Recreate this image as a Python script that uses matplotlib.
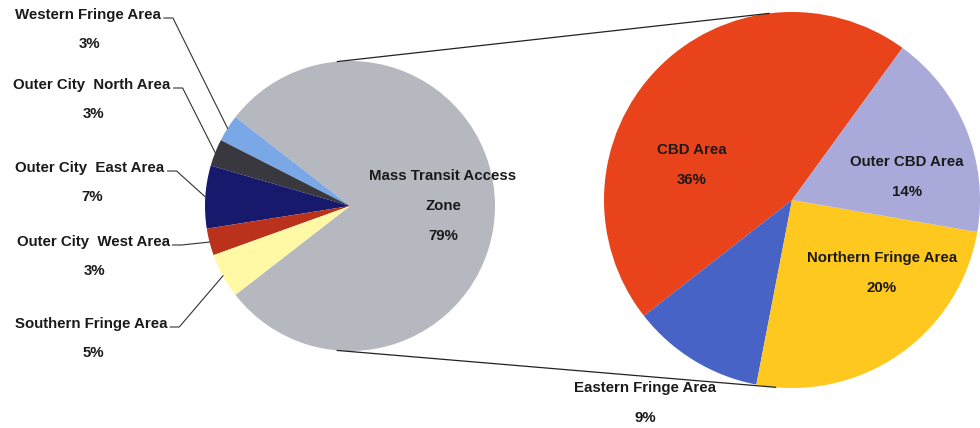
import numpy as np
import matplotlib
matplotlib.use('Agg')
import matplotlib.pyplot as plt

# main pie (share of all trips by zone)
main_labels = ['Mass Transit Access\nZone', 'Western Fringe Area', 'Outer City  North Area',
               'Outer City  East Area', 'Outer City  West Area', 'Southern Fringe Area']
main_values = [79, 3, 3, 7, 3, 5]
main_colors = ['#B6B8C0', '#7AA8E6', '#38383E', '#16196C', '#BA311C', '#FFF8A4']

# breakdown of the mass transit access zone
sub_labels = ['CBD Area', 'Eastern Fringe Area', 'Northern Fringe Area', 'Outer CBD Area']
sub_values = [36, 9, 20, 14]
sub_colors = ['#E8431B', '#4763C6', '#FFC81F', '#A9A9DA']

W, H = 980, 428
plt.rcParams['font.family'] = ['Liberation Sans', 'DejaVu Sans']

fig = plt.figure(figsize=(W / 100, H / 100), dpi=100)
ax = fig.add_axes([0, 0, 1, 1])
ax.set_xlim(0, W)
ax.set_ylim(0, H)
ax.set_aspect('equal')
ax.axis('off')


def Y(y):
    # image pixel row -> data y
    return H - y


c1, r1 = (350, Y(206)), 145
c2, r2 = (792, Y(200)), 188

gray_span = main_values[0] / sum(main_values) * 360
w1, _ = ax.pie(main_values, colors=main_colors, center=c1, radius=r1,
               startangle=-gray_span / 2, counterclock=True,
               wedgeprops=dict(linewidth=0))
w2, _ = ax.pie(sub_values, colors=sub_colors, center=c2, radius=r2,
               startangle=54, counterclock=True,
               wedgeprops=dict(linewidth=0))
ax.set_xlim(0, W)
ax.set_ylim(0, H)

# connector lines between the two pies
for a1, a2 in [(95, 97), (-95, -95)]:
    p1 = (c1[0] + r1 * np.cos(np.radians(a1)), c1[1] + r1 * np.sin(np.radians(a1)))
    p2 = (c2[0] + r2 * np.cos(np.radians(a2)), c2[1] + r2 * np.sin(np.radians(a2)))
    ax.plot([p1[0], p2[0]], [p1[1], p2[1]], color='#222222', lw=0.9)

fs = 10.8
tkw = dict(fontsize=fs, fontweight='bold', color='#1a1a1a', ha='center', va='center')

# outside labels for the small slices, with leaders
label_pos = {1: (88, 15), 2: (92, 85), 3: (90, 168), 4: (93, 242), 5: (91, 324)}
fig.canvas.draw()
renderer = fig.canvas.get_renderer()
for i, (lx, ly) in label_pos.items():
    t = ax.text(lx, Y(ly), main_labels[i], **tkw)
    ax.text(lx + 2, Y(ly + 29), '%d%%' % main_values[i], **tkw)
    x0 = t.get_window_extent(renderer).x1 + 3
    w = w1[i]
    mid = np.radians((w.theta1 + w.theta2) / 2)
    ex = c1[0] + r1 * np.cos(mid)
    ey = c1[1] + r1 * np.sin(mid)
    ax.plot([x0, x0 + 9, ex], [Y(ly + 3), Y(ly + 3), ey], color='#333333', lw=0.8)

# label inside the grey slice
ax.text(443, Y(176), 'Mass Transit Access', **tkw)
ax.text(443, Y(206), 'Zone', **tkw)
ax.text(443, Y(236), '%d%%' % main_values[0], **tkw)

# labels of the breakdown pie
sub_pos = [(692, 150), (645, 388), (882, 258), (907, 162)]
for name, v, (lx, ly) in zip(sub_labels, sub_values, sub_pos):
    ax.text(lx, Y(ly), name, **tkw)
    ax.text(lx, Y(ly + 30), '%d%%' % v, **tkw)

plt.savefig('out.png', dpi=100)
